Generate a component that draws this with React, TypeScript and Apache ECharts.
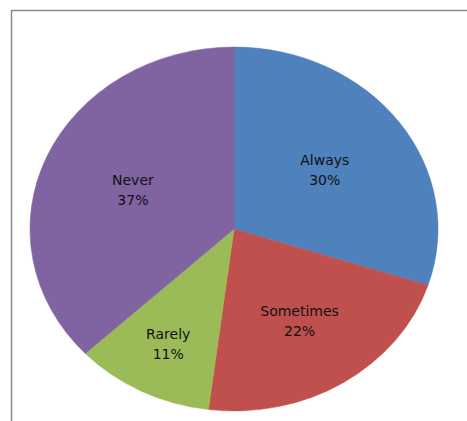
import React, { useEffect, useRef } from "react";
import * as echarts from "echarts";

const categories = ["Always", "Sometimes", "Rarely", "Never"];
const values = [30, 22, 11, 37];
const colors = ["#4F81BD", "#C0504D", "#9BBB59", "#8064A2"];

// layout constants (not data)
const CX = 234;
const CY = 229;
const RX = 204;
const RY = 182;
const LABEL_RADIUS = [0.55, 0.6, 0.71, 0.54];

export default function App() {
  const ref = useRef<HTMLDivElement>(null);
  useEffect(() => {
    if (!ref.current) return;
    const chart = echarts.init(ref.current, null, { renderer: "svg" });
    const total = values.reduce((a, b) => a + b, 0);
    const option: any = {
      animation: false,
      backgroundColor: "#ffffff",
      graphic: [
        {
          type: "rect",
          silent: true,
          z: -10,
          shape: { x: 11.5, y: 10.5, width: 600, height: 600 },
          style: { fill: "none", stroke: "#8a8a8a", lineWidth: 1.5 },
        },
      ],
      series: [
        {
          type: "custom",
          coordinateSystem: "none",
          data: values.map((v, i) => ({ name: categories[i], value: v })),
          renderItem: (params: any, api: any) => {
            const i = params.dataIndex;
            let before = 0;
            for (let k = 0; k < i; k++) before += values[k];
            const v = api.value(0);
            const a0 = (before / total) * Math.PI * 2;
            const a1 = ((before + v) / total) * Math.PI * 2;
            const mid = (a0 + a1) / 2;
            const f = LABEL_RADIUS[i];
            const lx = CX + RX * f * Math.sin(mid);
            const ly = CY - RY * f * Math.cos(mid);
            return {
              type: "group",
              children: [
                {
                  type: "group",
                  x: CX,
                  y: CY,
                  scaleX: RX / RY,
                  children: [
                    {
                      type: "sector",
                      shape: {
                        cx: 0,
                        cy: 0,
                        r0: 0,
                        r: RY,
                        startAngle: a0 - Math.PI / 2,
                        endAngle: a1 - Math.PI / 2,
                        clockwise: true,
                      },
                      style: { fill: colors[i], stroke: colors[i], lineWidth: 0.5 },
                    },
                  ],
                },
                {
                  type: "text",
                  x: lx,
                  y: ly,
                  z2: 10,
                  style: {
                    text: categories[i] + "\n" + v + "%",
                    fill: "#111111",
                    font: '14px "DejaVu Sans"',
                    align: "center",
                    verticalAlign: "middle",
                    lineHeight: 20,
                  },
                },
              ],
            };
          },
        },
      ],
    };
    chart.setOption(option);
    return () => chart.dispose();
  }, []);
  return (
    <div
      ref={ref}
      style={{ position: "fixed", left: 0, top: 0, width: 467, height: 421 }}
    />
  );
}
